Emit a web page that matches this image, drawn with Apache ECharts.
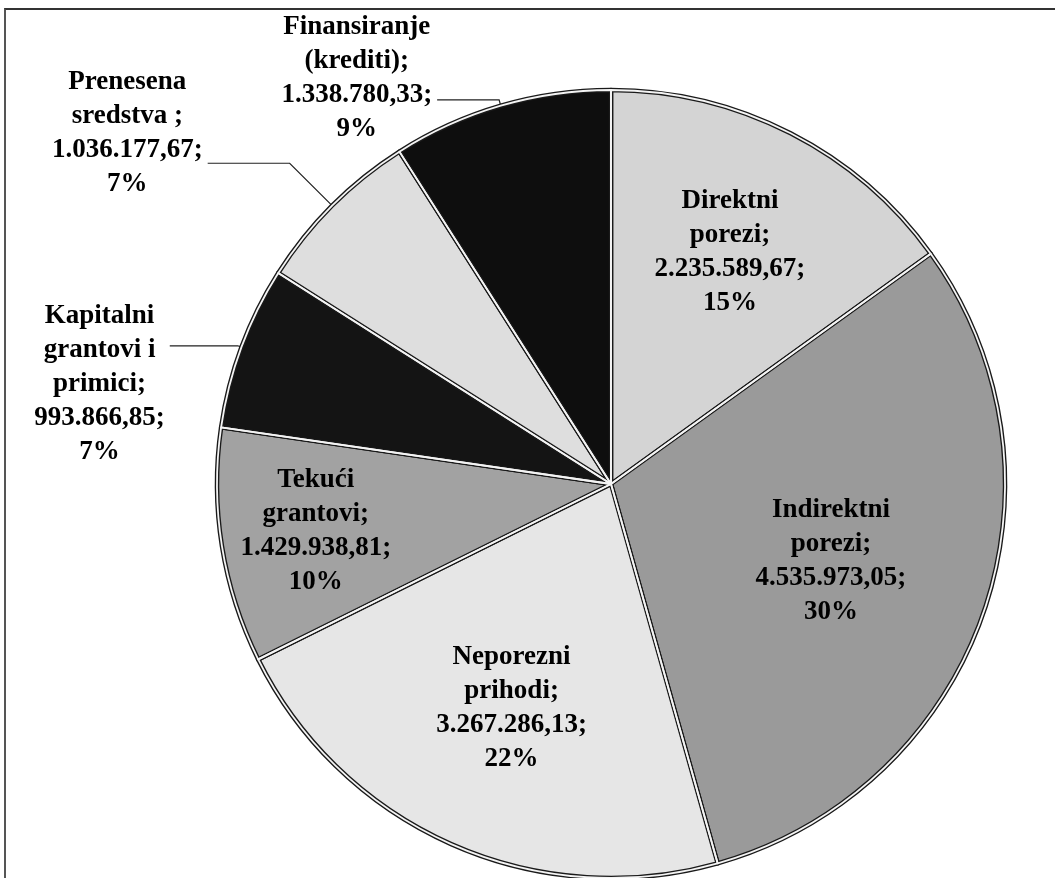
<!DOCTYPE html>
<html><head><meta charset="utf-8">
<script src="https://cdn.jsdelivr.net/npm/echarts@6/dist/echarts.min.js"></script>
<style>
html,body{margin:0;padding:0;background:#fff;overflow:hidden;}
#frame{position:absolute;left:4px;top:8px;width:1200px;height:1000px;border-left:2px solid #555;border-top:2px solid #333;}
#chart{position:absolute;left:0;top:0;width:1055px;height:878px;}
</style></head><body>
<div id="frame"></div><div id="chart"></div>
<script>
// ---- data ----
const categories = ['Direktni\nporezi', 'Indirektni\nporezi', 'Neporezni\nprihodi', 'Tekući\ngrantovi', 'Kapitalni\ngrantovi i\nprimici', 'Prenesena\nsredstva ', 'Finansiranje\n(krediti)'];
const values = [2235589.67, 4535973.05, 3267286.13, 1429938.81, 993866.85, 1036177.67, 1338780.33];

// ---- styles / layout ----
const colors = ['#d4d4d4', '#9a9a9a', '#e6e6e6', '#a2a2a2', '#141414', '#dedede', '#0e0e0e'];
const CENTER = [611, 484];
const RADIUS = 394;
const insideLabelRadius = {0: 516, 1: 460, 2: 484, 3: 592};
const outsideCfg = {4: {length: 4, length2: 68, dy: 38}, 5: {length: 60, length2: 82, dy: -30}, 6: {length: 6, length2: 62, dy: -22}};
const FONT = {fontFamily: '"Liberation Serif", "Times New Roman", serif', fontWeight: 'bold', fontSize: 27, lineHeight: 34, color: '#000'};

function fmt(v) {
  const s = v.toFixed(2).split('.');
  return s[0].replace(/\B(?=(\d{3})+(?!\d))/g, '.') + ',' + s[1];
}
function labelText(p) {
  return p.name + ';\n' + fmt(p.value) + ';\n' + p.percent + '%';
}
function richText(p) {
  return labelText(p).split('\n').map(l => '{c|' + l + '}').join('\n');
}

const baseData = categories.map((n, i) => ({name: n, value: values[i]}));

const series = [];
// main pie
series.push({
  type: 'pie', center: CENTER, radius: RADIUS, startAngle: 90, clockwise: true,
  percentPrecision: 0, avoidLabelOverlap: false, silent: true,
  itemStyle: {borderColor: '#1a1a1a', borderWidth: 4.5},
  label: {show: false},
  labelLine: {show: false},
  labelLayout: function (params) {
    const o = outsideCfg[params.dataIndex];
    return o ? {dy: o.dy} : {};
  },
  data: baseData.map((d, i) => {
    const item = {name: d.name, value: d.value, itemStyle: {color: colors[i]}};
    const o = outsideCfg[i];
    if (o) {
      item.label = Object.assign({show: true, position: 'outside', formatter: richText,
        rich: {c: Object.assign({align: 'center'}, FONT)}}, FONT);
      item.labelLine = {show: true, length: o.length, length2: o.length2, smooth: false,
        lineStyle: {color: '#222', width: 1.2}};
    }
    return item;
  })
});
// highlight separators (bevel)
series.push({
  type: 'pie', center: CENTER, radius: RADIUS, startAngle: 90, clockwise: true, silent: true,
  itemStyle: {color: 'rgba(0,0,0,0)', borderColor: '#f4f4f4', borderWidth: 1.8},
  label: {show: false}, labelLine: {show: false},
  data: baseData
});
// inside labels
Object.keys(insideLabelRadius).forEach(k => {
  const idx = +k;
  series.push({
    type: 'pie', center: CENTER, radius: [0, insideLabelRadius[k]], startAngle: 90, clockwise: true,
    percentPrecision: 0, silent: true, avoidLabelOverlap: false,
    itemStyle: {color: 'rgba(0,0,0,0)', borderWidth: 0},
    labelLine: {show: false},
    data: baseData.map((d, i) => ({name: d.name, value: d.value,
      label: Object.assign({show: i === idx, position: 'inside', formatter: labelText}, FONT)}))
  });
});

const chart = echarts.init(document.getElementById('chart'), null, {renderer: 'canvas'});
chart.setOption({animation: false, backgroundColor: 'transparent', series: series});
</script>
</body></html>
